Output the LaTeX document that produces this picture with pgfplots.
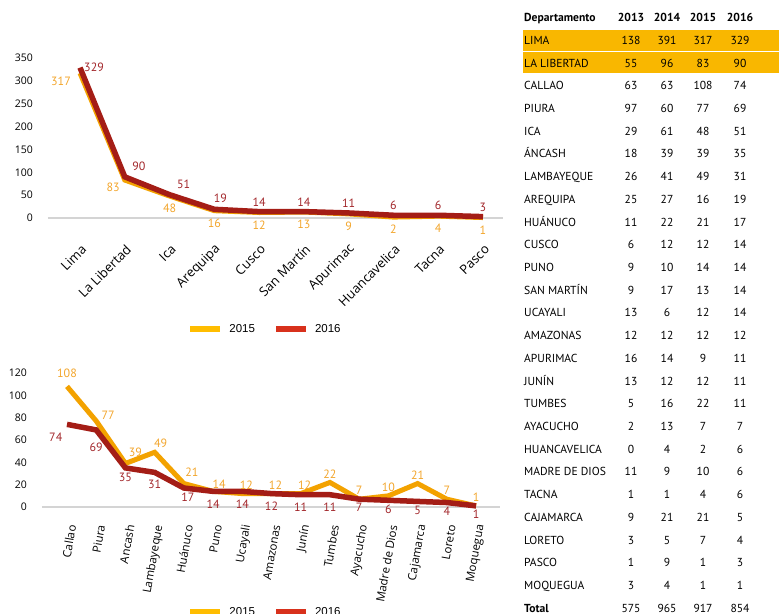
\documentclass[border=0pt]{standalone}
\usepackage{fontspec}
\setmainfont{PT Sans}
\newfontfamily\axfont{Open Sans}
\newfontfamily\legfont{Liberation Sans}
\usepackage{pgfplots}
\pgfplotsset{compat=1.18}
\definecolor{lorange}{HTML}{F3A200}
\definecolor{lred}{HTML}{A41D16}
\definecolor{torange}{HTML}{F2A52B}
\definecolor{tred}{HTML}{A2262A}
\definecolor{legorange}{HTML}{FFBD00}
\definecolor{legred}{HTML}{D8311C}
\definecolor{hl}{HTML}{F9B700}
\definecolor{axgray}{HTML}{D4D4D4}
\newcommand\tabfont{\fontsize{11.6bp}{14bp}\selectfont}
\newcommand\lblfont{\fontsize{12bp}{14bp}\selectfont}
\newcommand\lbl[2]{\addplot[forget plot, only marks, mark=text, text mark={}, nodes near coords, every node near coord/.append style={font=\lblfont, inner sep=1bp, #1}] coordinates {#2};}
\pgfplotsset{
  legend image code/.code={\draw[#1] (0bp,0bp) -- (30bp,0bp);},
  mystyle/.style={
    scale only axis, clip=false, anchor=south west,
    axis x line=bottom, axis y line=left,
    x axis line style={draw=axgray, line width=1.5bp, -},
    y axis line style={draw=none},
    major tick length=0pt, tick style={draw=none},
    /pgf/number format/assume math mode=true,
    yticklabel style={font=\axfont\fontsize{10.5bp}{12bp}\selectfont, anchor=east, inner sep=0pt, xshift=-15bp, text=black},
    legend style={draw=none, fill=none, legend columns=2, font=\legfont\fontsize{11.5bp}{13bp}\selectfont,
      /tikz/every even column/.append style={column sep=16bp},
      /tikz/every odd column/.append style={column sep=4bp},
      nodes={inner sep=2bp}, anchor=center},
  }
}
\begin{document}
\begin{tikzpicture}
\path[use as bounding box] (0bp,0bp) rectangle (779bp,614bp);

% ---------- top chart ----------
\begin{axis}[mystyle,
  at={(48bp,396bp)}, width=455bp, height=160bp,
  xmin=-0.715, xmax=9.447, ymin=0, ymax=350,
  ytick={0,50,...,350},
  xtick={0,...,9},
  xticklabels={Lima, La Libertad, Ica, Arequipa, Cusco, San Martín, Apurimac, Huancavelica, Tacna, Pasco},
  xticklabel style={font=\axfont\fontsize{13bp}{15bp}\selectfont, inner sep=0pt, xshift=4bp, yshift=-29bp, rotate=45, anchor=east, text=black},
  legend style={at={(axis description cs:0.477,-0.694)}},
]
\addplot[forget plot, color=lorange, line width=5bp] coordinates {(0,317)(1,83)(2,48)(3,16)(4,12)(5,13)(6,9)(7,2)(8,4)(9,1)};
\addplot[forget plot, color=lred, line width=5.5bp] coordinates {(0,329)(1,90)(2,51)(3,19)(4,14)(5,14)(6,11)(7,6)(8,6)(9,3)};
\lbl{text=torange, anchor=east, xshift=-8bp, yshift=-8bp}{(0,317)}
\lbl{text=torange, anchor=east, xshift=-4bp, yshift=-7bp}{(1,83)}
\lbl{text=torange, anchor=north, yshift=-7bp}{(2,48)(3,16)(4,12)(5,13)(6,9)(7,2)(8,4)(9,1)}
\lbl{text=tred, anchor=west, xshift=3bp}{(0,329)}
\lbl{text=tred, anchor=south, xshift=14bp, yshift=5bp}{(1,90)(2,51)}
\lbl{text=tred, anchor=south, xshift=6bp, yshift=5bp}{(3,19)}
\lbl{text=tred, anchor=south, yshift=4bp}{(4,14)(5,14)(6,11)(7,6)(8,6)(9,3)}
\addlegendimage{color=legorange, line width=6bp}
\addlegendentry{2015}
\addlegendimage{color=legred, line width=6bp}
\addlegendentry{2016}
\end{axis}

% ---------- bottom chart ----------
\begin{axis}[mystyle,
  at={(42bp,107bp)}, width=458bp, height=134bp,
  xmin=-0.856, xmax=14.82, ymin=0, ymax=120,
  ytick={0,20,...,120},
  xtick={0,...,14},
  xticklabels={Callao, Piura, Ancash, Lambayeque, Huánuco, Puno, Ucayali, Amazonas, Junín, Tumbes, Ayacucho, Madre de Dios, Cajamarca, Loreto, Moquegua},
  xticklabel style={font=\axfont\fontsize{11.5bp}{13bp}\selectfont, inner sep=0pt, xshift=5bp, yshift=-18bp, rotate=80, anchor=east, text=black},
  legend style={at={(axis description cs:0.487,-0.784)}},
]
\addplot[forget plot, color=lorange, line width=5bp] coordinates {(0,108)(1,77)(2,39)(3,49)(4,21)(5,14)(6,12)(7,12)(8,12)(9,22)(10,7)(11,10)(12,21)(13,7)(14,1)};
\addplot[forget plot, color=lred, line width=5.5bp] coordinates {(0,74)(1,69)(2,35)(3,31)(4,17)(5,14)(6,14)(7,12)(8,11)(9,11)(10,7)(11,6)(12,5)(13,4)(14,1)};
\lbl{text=torange, anchor=south, yshift=8bp}{(0,108)}
\lbl{text=torange, anchor=south, xshift=12bp, yshift=0bp}{(1,77)}
\lbl{text=torange, anchor=south, xshift=10bp, yshift=6bp}{(2,39)}
\lbl{text=torange, anchor=south, xshift=6bp, yshift=3bp}{(3,49)}
\lbl{text=torange, anchor=south, xshift=8bp, yshift=6bp}{(4,21)}
\lbl{text=torange, anchor=south, xshift=6bp, yshift=2bp}{(5,14)}
\lbl{text=torange, anchor=south, xshift=4bp, yshift=3bp}{(6,12)(7,12)(8,12)}
\lbl{text=torange, anchor=south, yshift=3bp}{(9,22)(10,7)(11,10)(12,21)(13,7)(14,1)}
\lbl{text=tred, anchor=north east, xshift=-3.5bp, yshift=-7.7bp}{(0,74)}
\lbl{text=tred, anchor=north, yshift=-12bp}{(1,69)}
\lbl{text=tred, anchor=north, yshift=-4bp}{(2,35)}
\lbl{text=tred, anchor=north, yshift=-6bp}{(3,31)}
\lbl{text=tred, anchor=north, xshift=4bp, yshift=-4bp}{(4,17)}
\lbl{text=tred, anchor=north, yshift=-7bp}{(5,14)(6,14)(7,12)(8,11)(9,11)}
\lbl{text=tred, anchor=north, yshift=-3bp}{(10,7)(11,6)(12,5)(13,4)(14,1)}
\addlegendimage{color=legorange, line width=6bp}
\addlegendentry{2015}
\addlegendimage{color=legred, line width=6bp}
\addlegendentry{2016}
\end{axis}

% ---------- table ----------
\begin{scope}[x=1bp,y=1bp]
\fill[hl] (523,584) rectangle (779,563);
\fill[hl] (523,562) rectangle (779,541);
\node[anchor=base west, font=\tabfont\bfseries, inner sep=0pt] at (524,592.5) {Departamento};
\foreach \yr/\cx in {2013/631,2014/667,2015/703,2016/740}
  \node[anchor=base, font=\tabfont\bfseries, inner sep=0pt] at (\cx,592.5) {\yr};
\foreach \n/\a/\b/\c/\d [count=\i from 0] in {
  LIMA/138/391/317/329,
  LA LIBERTAD/55/96/83/90,
  CALLAO/63/63/108/74,
  PIURA/97/60/77/69,
  ICA/29/61/48/51,
  ÁNCASH/18/39/39/35,
  LAMBAYEQUE/26/41/49/31,
  AREQUIPA/25/27/16/19,
  HUÁNUCO/11/22/21/17,
  CUSCO/6/12/12/14,
  PUNO/9/10/14/14,
  SAN MARTÍN/9/17/13/14,
  UCAYALI/13/6/12/14,
  AMAZONAS/12/12/12/12,
  APURIMAC/16/14/9/11,
  JUNÍN/13/12/12/11,
  TUMBES/5/16/22/11,
  AYACUCHO/2/13/7/7,
  HUANCAVELICA/0/4/2/6,
  MADRE DE DIOS/11/9/10/6,
  TACNA/1/1/4/6,
  CAJAMARCA/9/21/21/5,
  LORETO/3/5/7/4,
  PASCO/1/9/1/3,
  MOQUEGUA/3/4/1/1}
{
  \pgfmathsetmacro\yy{614-44.3-22.72*\i}
  \node[anchor=base west, font=\tabfont, inner sep=0pt] at (524,\yy) {\n};
  \node[anchor=base, font=\tabfont, inner sep=0pt] at (631,\yy) {\a};
  \node[anchor=base, font=\tabfont, inner sep=0pt] at (667,\yy) {\b};
  \node[anchor=base, font=\tabfont, inner sep=0pt] at (703,\yy) {\c};
  \node[anchor=base, font=\tabfont, inner sep=0pt] at (740,\yy) {\d};
}
\pgfmathsetmacro\yy{614-44.3-22.72*25}
\node[anchor=base west, font=\tabfont\bfseries, inner sep=0pt] at (524,\yy) {Total};
\node[anchor=base, font=\tabfont, inner sep=0pt] at (631,\yy) {575};
\node[anchor=base, font=\tabfont, inner sep=0pt] at (667,\yy) {965};
\node[anchor=base, font=\tabfont, inner sep=0pt] at (703,\yy) {917};
\node[anchor=base, font=\tabfont, inner sep=0pt] at (740,\yy) {854};
\end{scope}
\end{tikzpicture}
\end{document}
